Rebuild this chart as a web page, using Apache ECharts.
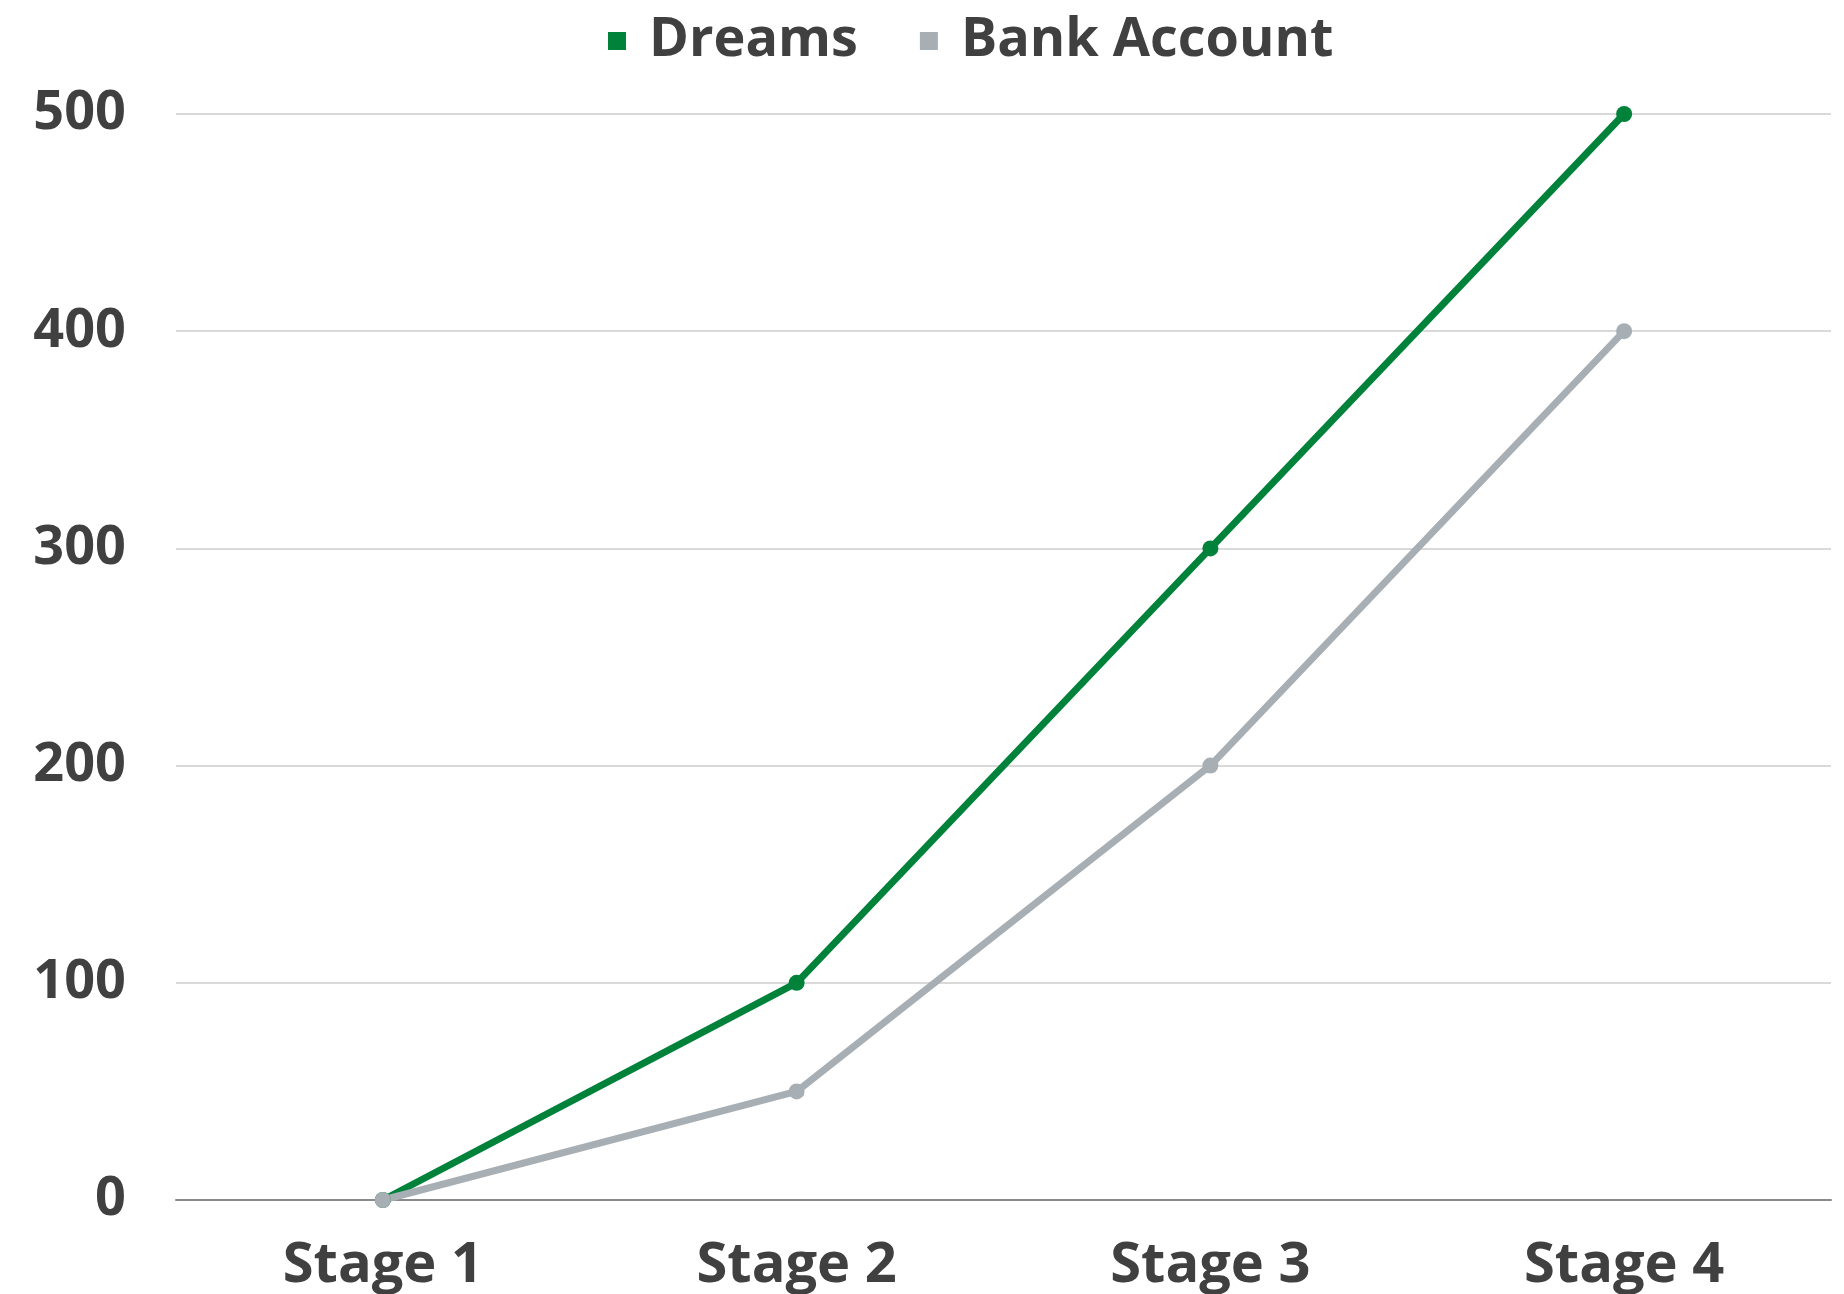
<!DOCTYPE html>
<html>
<head>
<meta charset="utf-8">
<script src="https://cdn.jsdelivr.net/npm/echarts@6/dist/echarts.min.js"></script>
<style>
  html, body { margin: 0; padding: 0; background: #ffffff; }
  #main { width: 1844px; height: 1294px; }
</style>
</head>
<body>
<div id="main"></div>
<script>
  // chart data
  var stages = ['Stage 1', 'Stage 2', 'Stage 3', 'Stage 4'];
  var dreams = [0, 100, 300, 500];
  var bankAccount = [0, 50, 200, 400];
  var yTicks = [0, 100, 200, 300, 400, 500];

  var textColor = '#404040';
  var font = 'Open Sans';

  var myChart = echarts.init(document.getElementById('main'));
  myChart.setOption({
    animation: false,
    legend: {
      top: 9,
      left: 603,
      itemWidth: 18,
      itemHeight: 18,
      itemGap: 62,
      icon: 'rect',
      textStyle: {
        fontFamily: font,
        fontWeight: 'bold',
        fontSize: 54,
        color: textColor,
        padding: [0, 0, 0, 18]
      },
      data: ['Dreams', 'Bank Account']
    },
    grid: {
      left: 176,
      right: 13,
      top: 114,
      bottom: 91
    },
    xAxis: {
      type: 'category',
      data: stages,
      axisTick: { show: false },
      axisLine: { lineStyle: { color: '#8a8a8a', width: 2 } },
      axisLabel: {
        margin: 38,
        fontFamily: font,
        fontWeight: 'bold',
        fontSize: 56,
        color: textColor
      }
    },
    yAxis: {
      type: 'value',
      min: yTicks[0],
      max: yTicks[yTicks.length - 1],
      interval: 100,
      axisLine: { show: false },
      axisTick: { show: false },
      splitLine: { lineStyle: { color: '#cccccc', width: 1.5 } },
      axisLabel: {
        margin: 50,
        fontFamily: font,
        fontWeight: 'bold',
        fontSize: 54,
        color: textColor
      }
    },
    series: [
      {
        name: 'Dreams',
        type: 'line',
        data: dreams,
        symbol: 'circle',
        symbolSize: 16,
        lineStyle: { color: '#00823b', width: 7 },
        itemStyle: { color: '#00823b' }
      },
      {
        name: 'Bank Account',
        type: 'line',
        data: bankAccount,
        symbol: 'circle',
        symbolSize: 16,
        lineStyle: { color: '#a7afb5', width: 7 },
        itemStyle: { color: '#a7afb5' }
      }
    ]
  });
  window.onresize = myChart.resize;
</script>
</body>
</html>
